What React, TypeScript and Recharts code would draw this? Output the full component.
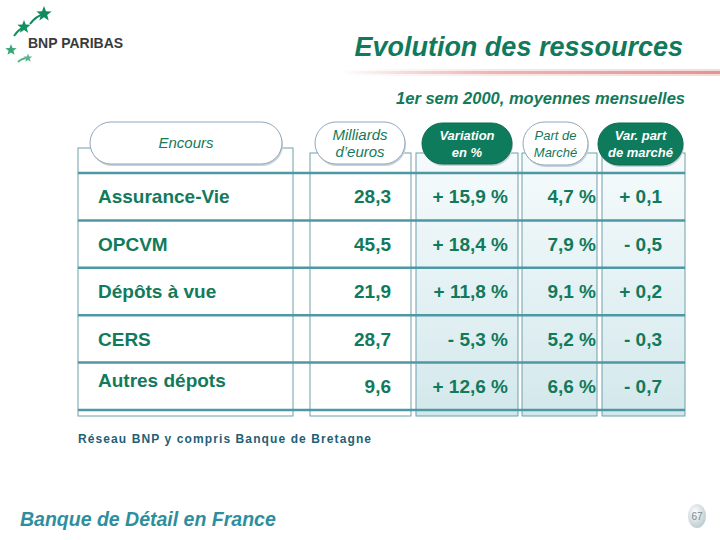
import React from "react";
import { ScatterChart, Scatter, XAxis, YAxis } from "recharts";

// Evolution des ressources, 1er sem 2000 (moyennes mensuelles)
const rows = ["Assurance-Vie", "OPCVM", "Dépôts à vue", "CERS", "Autres dépots"];
const encours = [28.3, 45.5, 21.9, 28.7, 9.6]; // milliards d'euros
const variation = [15.9, 18.4, 11.8, -5.3, 12.6]; // %
const partMarche = [4.7, 7.9, 9.1, 5.2, 6.6]; // %
const varPart = [0.1, -0.5, 0.2, -0.3, -0.7]; // points

const FONT = "'Liberation Sans', Arial, sans-serif";
const GREEN = "#127a5c";
const LINE = "#4d98a3";
const TOP = 173;
const BOTTOM = 410;
const ROW_H = (BOTTOM - TOP) / rows.length;

const fr = (v: number) => Math.abs(v).toFixed(1).replace(".", ",");
const signed = (v: number) => (v < 0 ? "- " : "+ ") + fr(v);

// anchor of each column of text
const columns = [
  { name: "label", values: rows, x: 98, anchor: "start", fmt: (v: any) => String(v) },
  { name: "encours", values: encours, x: 391, anchor: "end", fmt: (v: any) => fr(v) },
  { name: "variation", values: variation, x: 508, anchor: "end", fmt: (v: any) => signed(v) + " %" },
  { name: "part", values: partMarche, x: 596, anchor: "end", fmt: (v: any) => fr(v) + " %" },
  { name: "varPart", values: varPart, x: 662, anchor: "end", fmt: (v: any) => signed(v) },
];

const boxes = [
  { x: 78, y: 148, w: 215, shaded: false },
  { x: 310, y: 153, w: 101, shaded: false },
  { x: 416, y: 153, w: 102, shaded: true },
  { x: 522, y: 153, w: 75, shaded: true },
  { x: 602, y: 153, w: 83, shaded: true },
];

const pills = [
  { x: 90, y: 122, w: 192, h: 42, dark: false, lines: ["Encours"], size: 15 },
  { x: 315, y: 122, w: 90, h: 42, dark: false, lines: ["Milliards", "d’euros"], size: 15 },
  { x: 422, y: 123, w: 90, h: 41, dark: true, lines: ["Variation", "en %"], size: 13 },
  { x: 523, y: 122, w: 65, h: 43, dark: false, lines: ["Part de", "Marché"], size: 13 },
  { x: 598, y: 123, w: 85, h: 42, dark: true, lines: ["Var. part", "de marché"], size: 13 },
];

function star(cx: number, cy: number, r: number) {
  const pts: string[] = [];
  for (let i = 0; i < 10; i++) {
    const a = (Math.PI / 5) * i - Math.PI / 2;
    const rr = i % 2 === 0 ? r : r * 0.42;
    pts.push(`${cx + rr * Math.cos(a)},${cy + rr * Math.sin(a)}`);
  }
  return pts.join(" ");
}

function Backdrop() {
  return (
    <svg width={720} height={540} style={{ position: "absolute", left: 0, top: 0 }}>
      <defs>
        <linearGradient id="cellFill" x1="0" y1="0" x2="0" y2="1">
          <stop offset="0%" stopColor="#f6fbfc" />
          <stop offset="100%" stopColor="#d3e8ec" />
        </linearGradient>
        <linearGradient id="redLine" x1="0" y1="0" x2="1" y2="0">
          <stop offset="0%" stopColor="#e8a0a0" stopOpacity={0} />
          <stop offset="40%" stopColor="#e8a0a0" stopOpacity={0.7} />
          <stop offset="100%" stopColor="#e39494" stopOpacity={1} />
        </linearGradient>
        <radialGradient id="bubble" cx="40%" cy="35%" r="70%">
          <stop offset="0%" stopColor="#ffffff" />
          <stop offset="100%" stopColor="#b9c8cc" />
        </radialGradient>
      </defs>

      {/* logo */}
      <g fill="#0e8a5c">
        <path d="M30 24 Q36 16 44 14" stroke="#0e8a5c" strokeWidth={2} fill="none" />
        <polygon points={star(44, 14, 8)} />
        <path d="M14 36 Q18 30 24 27" stroke="#129160" strokeWidth={2} fill="none" />
        <polygon points={star(24, 27, 7)} fill="#129160" />
        <polygon points={star(11, 50, 6)} fill="#3aa478" />
        <path d="M18 62 Q22 58 28 58" stroke="#5ab48a" strokeWidth={2} fill="none" />
        <polygon points={star(28, 58, 4.5)} fill="#5ab48a" />
      </g>
      <text x={28} y={48} fontFamily={FONT} fontWeight="bold" fontSize={14} fill="#3a3a3a">
        BNP PARIBAS
      </text>

      {/* title */}
      <text x={683} y={56} textAnchor="end" fontFamily={FONT} fontWeight="bold" fontStyle="italic" fontSize={27} fill={GREEN}>
        Evolution des ressources
      </text>
      <rect x={340} y={69} width={380} height={7} fill="url(#redLine)" opacity={0.35} />
      <rect x={340} y={71} width={380} height={3} fill="url(#redLine)" />
      <text x={685} y={104} textAnchor="end" fontFamily={FONT} fontWeight="bold" fontStyle="italic" fontSize={16.5} fill={GREEN}>
        1er sem 2000, moyennes mensuelles
      </text>

      {/* column boxes */}
      {boxes.map((b) => (
        <rect key={b.x} x={b.x} y={b.y} width={b.w} height={416 - b.y} fill={b.shaded ? "url(#cellFill)" : "#ffffff"} stroke="#6f9fab" strokeWidth={1} />
      ))}
      {rows.concat([""]).map((_, i) => (
        <line key={i} x1={78} x2={685} y1={TOP + i * ROW_H} y2={TOP + i * ROW_H} stroke={LINE} strokeWidth={2.5} />
      ))}

      {/* header pills */}
      {pills.map((p) => (
        <g key={p.x}>
          <rect x={p.x + 1} y={p.y + 2} width={p.w} height={p.h} rx={p.h / 2} fill="#c8d2da" />
          <rect x={p.x} y={p.y} width={p.w} height={p.h} rx={p.h / 2} fill={p.dark ? "#0f7b5d" : "#ffffff"} stroke={p.dark ? "#0c6a50" : "#8fa7bd"} strokeWidth={1} />
          {p.lines.map((t, j) => (
            <text
              key={t}
              x={p.x + p.w / 2}
              y={p.y + p.h / 2 + (p.lines.length === 1 ? 0 : (j - 0.5) * 17)}
              dy="0.35em"
              textAnchor="middle"
              fontFamily={FONT}
              fontStyle="italic"
              fontWeight={p.dark ? "bold" : "normal"}
              fontSize={p.size}
              fill={p.dark ? "#ffffff" : GREEN}
            >
              {t}
            </text>
          ))}
        </g>
      ))}

      {/* notes */}
      <text x={78} y={443} fontFamily={FONT} fontWeight="bold" fontSize={12} letterSpacing={1.1} fill="#1f5f75">
        Réseau BNP y compris Banque de Bretagne
      </text>
      <text x={20} y={526} fontFamily={FONT} fontWeight="bold" fontStyle="italic" fontSize={19.5} fill="#2d8f9e">
        Banque de Détail en France
      </text>
      <ellipse cx={697} cy={516} rx={9} ry={12} fill="url(#bubble)" />
      <text x={697} y={516} dy="0.35em" textAnchor="middle" fontFamily={FONT} fontSize={10} fill="#7a8a90">
        67
      </text>
    </svg>
  );
}

export default function App() {
  return (
    <div style={{ position: "absolute", left: 0, top: 0, width: 720, height: 540, background: "#ffffff" }}>
      <Backdrop />
      <div style={{ position: "absolute", left: 0, top: 0 }}>
        <ScatterChart width={720} height={540} margin={{ top: TOP, bottom: 540 - BOTTOM, left: 0, right: 0 }}>
          <XAxis type="number" dataKey="x" domain={[0, 720]} hide />
          <YAxis type="category" dataKey="row" scale="band" reversed allowDuplicatedCategory={false} hide />
          {columns.map((c) => (
            <Scatter
              key={c.name}
              name={c.name}
              data={rows.map((row, i) => ({ row, x: c.x, value: c.values[i] }))}
              isAnimationActive={false}
              shape={(p: any) => {
                // the last label sits a little higher in the original slide
                const lift = c.name === "label" && p.payload.row === rows[rows.length - 1] ? -6 : 0;
                return (
                  <text
                    x={p.cx}
                    y={p.cy + lift}
                    dy="0.35em"
                    textAnchor={c.anchor as any}
                    fontFamily={FONT}
                    fontWeight="bold"
                    fontSize={19}
                    fill={GREEN}
                  >
                    {c.fmt(p.payload.value)}
                  </text>
                );
              }}
            />
          ))}
        </ScatterChart>
      </div>
    </div>
  );
}
